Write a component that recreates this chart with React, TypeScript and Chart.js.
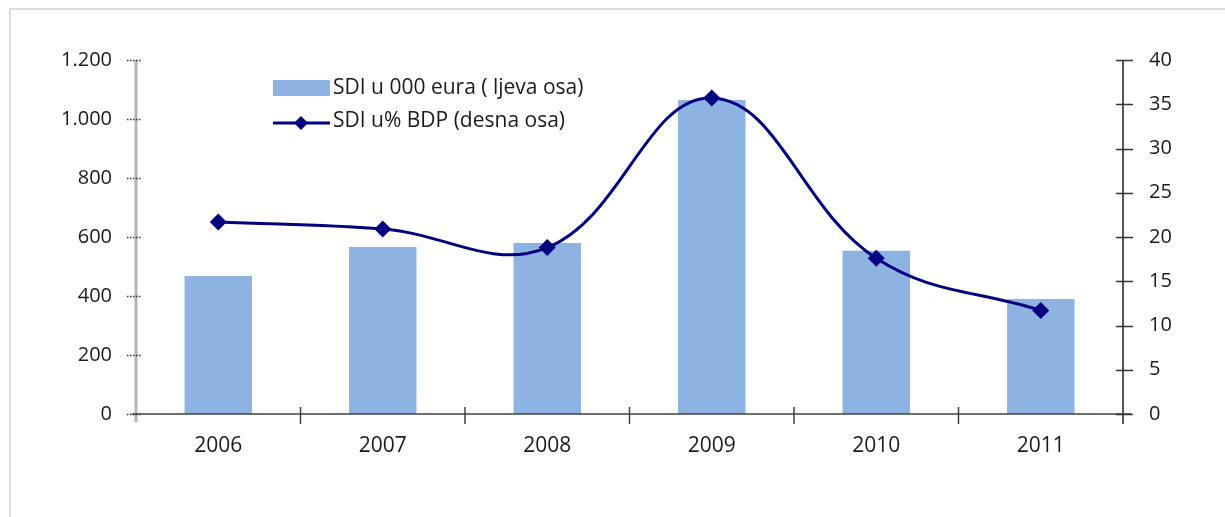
import React, { useEffect, useRef } from "react";
import { Chart, registerables } from "chart.js";

Chart.register(...registerables);

const categories = ["2006", "2007", "2008", "2009", "2010", "2011"];
const sdiEur = [468, 566, 580, 1064, 553, 390];
const sdiGdp = [21.7, 20.9, 18.8, 35.7, 17.6, 11.7];
const leftTicks = [0, 200, 400, 600, 800, 1000, 1200];
const rightTicks = [0, 5, 10, 15, 20, 25, 30, 35, 40];
const legendLabels = ["SDI u 000 eura ( ljeva osa)", "SDI u% BDP (desna osa)"];

const BAR_COLOR = "#8DB3E2";
const LINE_COLOR = "#000080";
const TEXT_COLOR = "#1a1a1a";
const FONT = "'Open Sans', sans-serif";

const fmt = (v: number) => v.toString().replace(/\B(?=(\d{3})+(?!\d))/g, ".");

const axesPlugin = {
  id: "excelAxes",
  afterDatasetsDraw(chart: any) {
    const ctx = chart.ctx;
    const { left, right, bottom, top } = chart.chartArea;
    const x = chart.scales.x;
    const y = chart.scales.y;
    const y1 = chart.scales.y1;
    ctx.save();
    ctx.strokeStyle = "#b4b4b4";
    ctx.lineWidth = 3;
    ctx.beginPath();
    ctx.moveTo(left, top);
    ctx.lineTo(left, bottom + 8);
    ctx.stroke();
    ctx.strokeStyle = "#333";
    ctx.lineWidth = 1.5;
    ctx.setLineDash([1.5, 1.5]);
    leftTicks.forEach((t) => {
      const py = Math.round(y.getPixelForValue(t)) + 0.5;
      ctx.beginPath();
      ctx.moveTo(left - 9, py);
      ctx.lineTo(left + 6, py);
      ctx.stroke();
    });
    ctx.setLineDash([]);
    ctx.strokeStyle = "#404040";
    ctx.lineWidth = 1.5;
    ctx.beginPath();
    ctx.moveTo(left - 4, bottom);
    ctx.lineTo(right + 8, bottom);
    ctx.stroke();
    for (let i = 1; i < categories.length; i++) {
      const px = (x.getPixelForValue(i - 1) + x.getPixelForValue(i)) / 2;
      ctx.beginPath();
      ctx.moveTo(px, bottom - 7);
      ctx.lineTo(px, bottom + 10);
      ctx.stroke();
    }
    ctx.lineWidth = 2;
    ctx.strokeStyle = "#555";
    ctx.beginPath();
    ctx.moveTo(right, top);
    ctx.lineTo(right, bottom + 10);
    ctx.stroke();
    ctx.lineWidth = 1.5;
    ctx.strokeStyle = "#333";
    rightTicks.forEach((t) => {
      const py = Math.round(y1.getPixelForValue(t)) + 0.5;
      ctx.beginPath();
      ctx.moveTo(right - 7, py);
      ctx.lineTo(right + 10, py);
      ctx.stroke();
    });
    ctx.restore();
  },
  afterDraw(chart: any) {
    const ctx = chart.ctx;
    ctx.save();
    ctx.fillStyle = BAR_COLOR;
    ctx.fillRect(273, 80, 57, 16);
    ctx.strokeStyle = LINE_COLOR;
    ctx.lineWidth = 3;
    ctx.beginPath();
    ctx.moveTo(273, 123);
    ctx.lineTo(330, 123);
    ctx.stroke();
    ctx.fillStyle = LINE_COLOR;
    ctx.beginPath();
    ctx.moveTo(301, 116);
    ctx.lineTo(308, 123);
    ctx.lineTo(301, 130);
    ctx.lineTo(294, 123);
    ctx.closePath();
    ctx.fill();
    ctx.fillStyle = TEXT_COLOR;
    ctx.font = `21px ${FONT}`;
    ctx.textBaseline = "middle";
    ctx.textAlign = "left";
    ctx.fillText(legendLabels[0], 333, 88);
    ctx.fillText(legendLabels[1], 333, 121);
    ctx.restore();
  },
};

export default function App() {
  const ref = useRef<HTMLCanvasElement>(null);
  useEffect(() => {
    document.body.style.overflow = "hidden";
    if (!ref.current) return;
    const chart = new Chart(ref.current, {
      type: "bar",
      data: {
        labels: categories,
        datasets: [
          {
            type: "line",
            label: legendLabels[1],
            data: sdiGdp,
            yAxisID: "y1",
            borderColor: LINE_COLOR,
            backgroundColor: LINE_COLOR,
            borderWidth: 3,
            tension: 0.4,
            pointStyle: "rectRot",
            pointRadius: 8.5,
            pointBorderWidth: 0,
            order: 0,
          } as any,
          {
            type: "bar",
            label: legendLabels[0],
            data: sdiEur,
            yAxisID: "y",
            backgroundColor: BAR_COLOR,
            categoryPercentage: 1,
            barPercentage: 0.41,
            order: 1,
          },
        ],
      },
      options: {
        responsive: false,
        animation: false,
        layout: { padding: { top: 60, left: 0, right: 0, bottom: 0 } },
        plugins: { legend: { display: false }, tooltip: { enabled: false } },
        scales: {
          x: {
            offset: true,
            grid: { display: false, drawTicks: false },
            border: { display: false },
            ticks: {
              padding: 19,
              color: TEXT_COLOR,
              font: { family: FONT, size: 21 },
              maxRotation: 0,
            },
            afterFit: (s: any) => {
              s.height = 103;
            },
          },
          y: {
            position: "left",
            min: 0,
            max: 1200,
            afterBuildTicks: (s: any) => {
              s.ticks = leftTicks.map((v) => ({ value: v }));
            },
            grid: { display: false, drawTicks: false },
            border: { display: false },
            ticks: {
              padding: 24,
              color: TEXT_COLOR,
              font: { family: FONT, size: 20 },
              callback: (v: any) => fmt(Number(v)),
            },
            afterFit: (s: any) => {
              s.width = 136;
            },
          },
          y1: {
            position: "right",
            min: 0,
            max: 40,
            afterBuildTicks: (s: any) => {
              s.ticks = rightTicks.map((v) => ({ value: v }));
            },
            grid: { display: false, drawTicks: false },
            border: { display: false },
            ticks: {
              padding: 26,
              color: TEXT_COLOR,
              font: { family: FONT, size: 20 },
            },
            afterFit: (s: any) => {
              s.width = 102;
            },
          },
        },
      },
      plugins: [axesPlugin],
    });
    return () => chart.destroy();
  }, []);
  return (
    <div style={{ position: "fixed", left: 0, top: 0, width: 1225, height: 517, overflow: "hidden", background: "#fff" }}>
      <div
        style={{
          position: "absolute",
          left: 9,
          top: 8,
          width: 1400,
          height: 700,
          borderLeft: "2px solid #dcdcdc",
          borderTop: "2px solid #dcdcdc",
        }}
      />
      <canvas ref={ref} width={1225} height={517} style={{ position: "absolute", left: 0, top: 0 }} />
    </div>
  );
}
